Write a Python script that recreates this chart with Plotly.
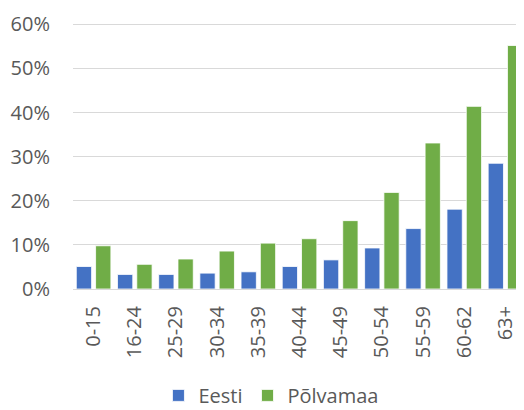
import plotly.graph_objects as go

categories = ["0-15", "16-24", "25-29", "30-34", "35-39", "40-44",
              "45-49", "50-54", "55-59", "60-62", "63+"]
eesti = [0.051, 0.033, 0.033, 0.036, 0.039, 0.051, 0.066, 0.093, 0.137, 0.181, 0.285]
polvamaa = [0.098, 0.056, 0.068, 0.086, 0.104, 0.114, 0.155, 0.219, 0.331, 0.414, 0.552]
y_ticks = [0, 0.1, 0.2, 0.3, 0.4, 0.5, 0.6]

font_family = "Open Sans"
grey = "#595959"

fig = go.Figure()
fig.add_trace(go.Bar(name="Eesti", x=categories, y=eesti,
                     marker=dict(color="#4472C4", line=dict(color="white", width=0.8))))
fig.add_trace(go.Bar(name="Põlvamaa", x=categories, y=polvamaa,
                     marker=dict(color="#70AD47", line=dict(color="white", width=0.8))))

# page body has an 8px default margin, so the figure is sized to end at the window edge
fig.update_layout(
    width=516, height=402,
    margin=dict(l=65, r=0, t=15, b=121, autoexpand=False),
    paper_bgcolor="white", plot_bgcolor="white",
    barmode="group", bargap=0.063, bargroupgap=0.207,
    font=dict(family=font_family, size=20, color=grey),
    showlegend=True,
    legend=dict(orientation="h", x=0.44, xanchor="center", y=-0.40, yanchor="middle",
                font=dict(size=20, color=grey), tracegroupgap=0),
    xaxis=dict(
        range=[-0.5, 10.45],
        automargin=False,
        tickangle=-90,
        showgrid=False,
        showline=True, linecolor="#D9D9D9", linewidth=1,
        ticks="outside", ticklen=8, tickcolor="rgba(0,0,0,0)",
        tickfont=dict(size=20, color=grey),
    ),
    yaxis=dict(
        range=[0, 0.603],
        automargin=False,
        tickvals=y_ticks,
        tickformat=".0%",
        showgrid=True, gridcolor="#D9D9D9", gridwidth=1,
        zeroline=False,
        ticks="outside", ticklen=18, tickcolor="rgba(0,0,0,0)",
        tickfont=dict(size=20, color=grey),
    ),
)

fig.write_html("out.html")
